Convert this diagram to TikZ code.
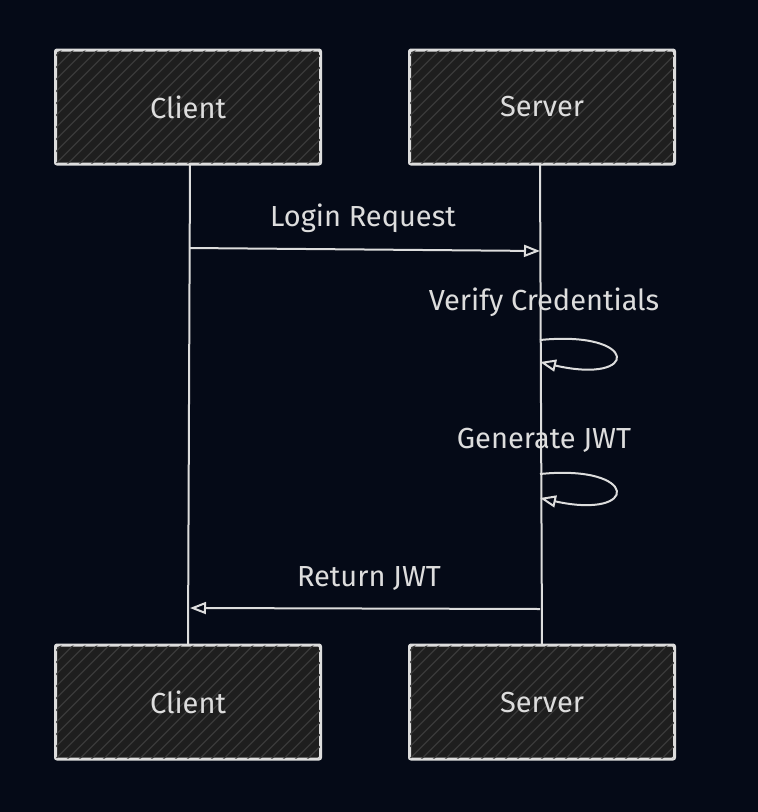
\documentclass[tikz,border=0pt]{standalone}
\usepackage{fontspec}
\setmainfont{Fira Sans}
\usetikzlibrary{arrows.meta}
\definecolor{bgc}{HTML}{050A17}
\definecolor{boxc}{HTML}{1E1E1E}
\definecolor{hatchc}{HTML}{3A3A3A}
\definecolor{inkc}{HTML}{DDDDDD}
\begin{document}
\begin{tikzpicture}[x=1pt,y=-1pt, line width=2pt,
    actor/.style = {draw=inkc, fill=boxc, minimum width=264pt, minimum height=113pt, rounded corners=2pt, text=inkc},
    msg/.style = {draw=inkc, -{Triangle[open,length=16pt,width=12pt]}},
    lbl/.style = {text=inkc, font=\fontsize{29}{34}\selectfont}]
    % fond
    \fill[bgc] (0,0) rectangle (758,812);
    % acteurs
    \node[actor] (ct) at (188,107) {};
    \node[actor] (st) at (542,107) {};
    \node[actor] (cb) at (188,702) {};
    \node[actor] (sb) at (542,702) {};
    \foreach \n in {ct,st,cb,sb} {
        \begin{scope}
            \clip (\n.south west) rectangle (\n.north east);
            \foreach \k in {-120,-108,...,400}
                \draw[hatchc, line width=1.2pt] ([xshift=\k pt]\n.south west) -- ++(120,-120);
        \end{scope}
        \draw[inkc, rounded corners=2pt] (\n.south west) rectangle (\n.north east);
    }
    \node[lbl] at (ct) {Client};
    \node[lbl] at (st) {Server};
    \node[lbl] at (cb) {Client};
    \node[lbl] at (sb) {Server};
    % lignes de vie
    \draw[inkc] (190,163) -- (188,645);
    \draw[inkc] (540,163) -- (542,645);
    % messages
    \coordinate (a1) at (190,248);
    \coordinate (a2) at (540,251);
    \draw[msg] (a1) -- (a2);
    \node[lbl] (l1) at (363,218) {Login Request};
    \coordinate (v1) at (540,340);
    \coordinate (v2) at (540,362);
    \draw[msg] (v1) .. controls (640,330) and (640,385) .. (v2);
    \node[lbl] (l2) at (544,302) {Verify Credentials};
    \coordinate (g1) at (540,474);
    \coordinate (g2) at (540,498);
    \draw[msg] (g1) .. controls (640,464) and (640,520) .. (g2);
    \node[lbl] (l3) at (544,440) {Generate JWT};
    \coordinate (r1) at (540,609);
    \coordinate (r2) at (190,608);
    \draw[msg] (r1) -- (r2);
    \node[lbl] (l4) at (369,578) {Return JWT};
\end{tikzpicture}
\end{document}
